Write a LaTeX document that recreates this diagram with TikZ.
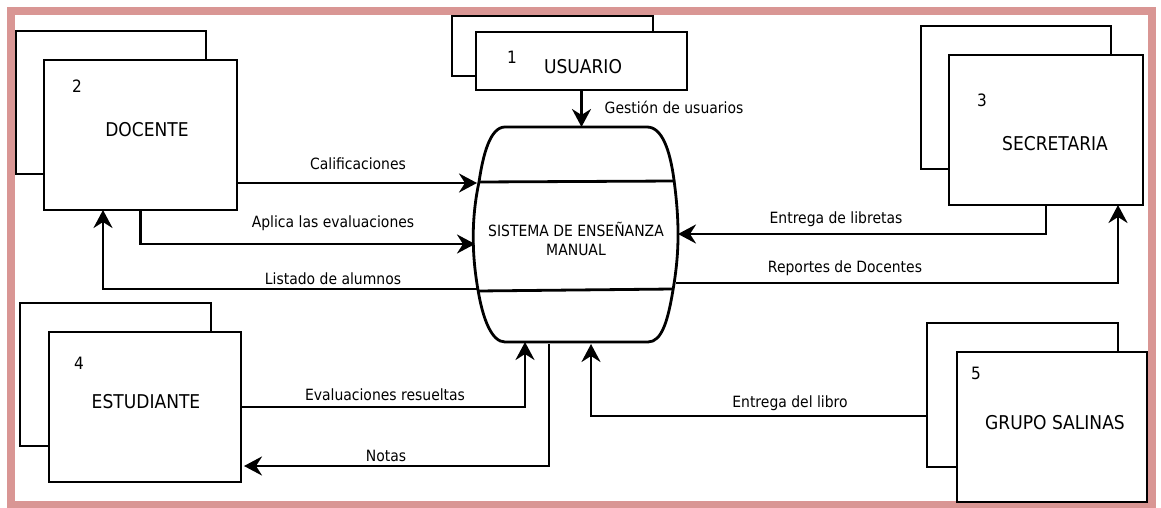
\documentclass[tikz,border=0pt]{standalone}
\usepackage{fontspec}
\setmainfont{DejaVu Sans}[FakeStretch=0.9]
\usetikzlibrary{arrows.meta}
\definecolor{framepink}{RGB}{217,150,148}
\tikzset{
  box/.style={draw, line width=2.8pt, fill=white, inner sep=0pt, outer sep=0pt},
  flow/.style={line width=2.8pt, -{Stealth[length=18pt, width=19pt, inset=6pt]}},
  plain/.style={line width=2.8pt},
  lbl/.style={inner sep=0pt, font=\fontsize{15.5}{18}\selectfont},
  ent/.style={inner sep=0pt, font=\fontsize{19}{22}\selectfont},
  num/.style={inner sep=0pt, font=\fontsize{17}{20}\selectfont},
}
\begin{document}
\begin{tikzpicture}[x=1pt, y=-1pt]
\useasboundingbox (0,0) rectangle (1161,508);
\fill[white] (0,0) rectangle (1161,508);

% outer frame
\draw[framepink, line width=8pt] (11,11) rectangle (1152,505);

% external entities (double boxes)
\node[box, minimum width=190pt, minimum height=143pt] (docb) at (111,102.5) {};
\node[box, minimum width=193pt, minimum height=150pt] (doc) at (140.5,135) {};
\node[num] (n2) at (77,86) {2};
\node[ent] (docl) at (147,130) {DOCENTE};

\node[box, minimum width=201pt, minimum height=60pt] (usrb) at (552.5,46) {};
\node[box, minimum width=211pt, minimum height=58pt] (usr) at (581.5,61) {};
\node[num] (n1) at (512,57) {1};
\node[ent] (usrl) at (583,67) {USUARIO};

\node[box, minimum width=190pt, minimum height=143pt] (secb) at (1016,97.5) {};
\node[box, minimum width=194pt, minimum height=150pt] (sec) at (1046,130) {};
\node[num] (n3) at (982,100) {3};
\node[ent] (secl) at (1055,144) {SECRETARIA};

\node[box, minimum width=191pt, minimum height=143pt] (estb) at (115.5,374.5) {};
\node[box, minimum width=192pt, minimum height=150pt] (est) at (145,407) {};
\node[num] (n4) at (79,363) {4};
\node[ent] (estl) at (146,402) {ESTUDIANTE};

\node[box, minimum width=191pt, minimum height=144pt] (grpb) at (1022.5,395) {};
\node[box, minimum width=190pt, minimum height=150pt] (grp) at (1052,427) {};
\node[num] (n5) at (976,373) {5};
\node[ent] (grpl) at (1055,423) {GRUPO SALINAS};

% central process (barrel shape)
\draw[plain, line join=round]
  (505,127) -- (647,127)
  .. controls (662,127) and (670,150) .. (674,180)
  .. controls (680,225) and (679,255) .. (673,290)
  .. controls (668,320) and (662,342) .. (648,342)
  -- (505,342)
  .. controls (492,342) and (483,320) .. (478,290)
  .. controls (471,250) and (472,215) .. (479,182)
  .. controls (483,155) and (490,127) .. (505,127) -- cycle;
\draw[plain] (479,182) -- (675,181);
\draw[plain] (478,291) -- (673,289);
\node[lbl, align=center] (proc) at (576,239) {SISTEMA DE ENSEÑANZA\\[1pt]MANUAL};

% connection points on the process
\coordinate (tipGes) at (582,127);
\coordinate (tipCal) at (477,183);
\coordinate (tipApl) at (475,244);
\coordinate (srcLst) at (478,289);
\coordinate (tipLib) at (678,234);
\coordinate (srcRep) at (676,283);
\coordinate (tipEva) at (525,342);
\coordinate (srcNot) at (549,344);
\coordinate (tipLbr) at (591,344);

% data flows
\draw[flow] (usr.south) -- (usr.south |- tipGes);
\draw[flow] (doc.east |- tipCal) -- (tipCal);
\draw[flow] (doc.south) |- (tipApl);
\draw[flow] (srcLst) -| ([xshift=-37.5pt]doc.south);
\draw[flow] (sec.south) |- (tipLib);
\draw[flow] (srcRep) -| ([xshift=72pt]sec.south);
\draw[flow] (est.east) -| (tipEva);
\draw[flow, shorten >=3pt] (srcNot) |- ([yshift=-59pt]est.east);
\draw[flow] ([yshift=-21pt]grpb.west) -| (tipLbr);

% flow labels
\node[lbl] (lGes) at (674,107) {Gestión de usuarios};
\node[lbl] (lCal) at (358,164) {Calificaciones};
\node[lbl] (lApl) at (333,223) {Aplica las evaluaciones};
\node[lbl] (lLst) at (333,279) {Listado de alumnos};
\node[lbl] (lLib) at (836,219) {Entrega de libretas};
\node[lbl] (lRep) at (845,268) {Reportes de Docentes};
\node[lbl] (lEva) at (385,395) {Evaluaciones resueltas};
\node[lbl] (lNot) at (386,456) {Notas};
\node[lbl] (lLbr) at (790,403) {Entrega del libro};
\end{tikzpicture}
\end{document}
